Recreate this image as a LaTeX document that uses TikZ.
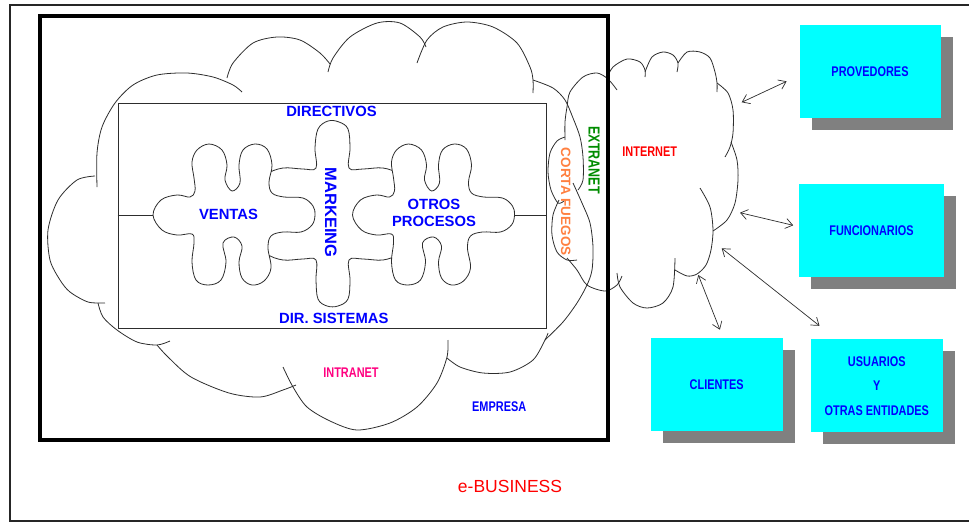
\documentclass[tikz,border=0pt]{standalone}
\usepackage{fontspec}
\setmainfont{Liberation Sans}
\newfontfamily\narrowsf{Liberation Sans}[FakeStretch=0.78]
\usetikzlibrary{arrows.meta,shadows}

\definecolor{boxcyan}{RGB}{0,255,255}
\definecolor{shadowgray}{RGB}{128,128,128}
\definecolor{linegray}{RGB}{45,45,45}
\definecolor{extragreen}{RGB}{0,140,0}
\definecolor{fireorange}{RGB}{255,128,64}
\definecolor{intrapink}{RGB}{255,0,128}

\tikzset{
    cloudline/.style={draw=linegray, line width=0.8pt},
    piece/.style={draw=linegray, line width=0.8pt, fill=white},
    dept/.style={font=\fontsize{14.8}{17.3}\selectfont\bfseries, text=blue, inner sep=0pt},
    tag/.style={font=\narrowsf\fontsize{14}{16}\selectfont\bfseries, inner sep=0pt},
    entity/.style={fill=boxcyan, minimum width=141pt, minimum height=93pt, inner sep=0pt,
        text=blue, align=center, font=\narrowsf\fontsize{14}{24.5}\selectfont\bfseries,
        drop shadow={shadow xshift=12pt, shadow yshift=-12pt, fill=shadowgray, opacity=1}},
    link/.style={draw=linegray, line width=0.7pt,
        {Straight Barb[length=7pt,width=10pt]}-{Straight Barb[length=7pt,width=10pt]}}
}

\begin{document}
\begin{tikzpicture}[x=1pt, y=-1pt]
    \useasboundingbox (0,0) rectangle (969,523);

    % empresa / intranet cloud
    \draw[cloudline] plot[smooth] coordinates {(97,187) (97,153) (102,127) (115,103) (133,85) (157,75) (187,73) (213,77) (233,85) (242,92)};
    \draw[cloudline] plot[smooth] coordinates {(227,78) (233,63) (253,43) (277,37) (300,40) (320,53) (330,64)};
    \draw[cloudline] plot[smooth] coordinates {(328,72) (333,58) (350,37) (377,23) (400,23) (420,37) (426,47)};
    \draw[cloudline] plot[smooth] coordinates {(417,63) (427,40) (443,27) (467,22) (493,27) (517,43) (530,67) (533,80) (533,93)};
    \draw[cloudline] plot[smooth] coordinates {(533,80) (553,88) (565,100) (573,118) (580,137) (583,157) (583,180) (578,190)};
    \draw[cloudline] plot[smooth] coordinates {(573,183) (582,203) (590,223) (593,247) (592,270) (587,285) (577,303) (563,322) (545,340)};
    \draw[cloudline] plot[smooth] coordinates {(548,333) (545,340) (533,360) (510,372) (483,373) (460,367) (447,358)};
    \draw[cloudline] plot[smooth] coordinates {(448,340) (447,357) (437,383) (417,407) (390,423) (357,430) (330,421) (307,407) (293,387) (283,367)};
    \draw[cloudline] plot[smooth] coordinates {(296,385) (283,390) (260,397) (229,393) (191,377) (168,357) (157,345)};
    \draw[cloudline] plot[smooth] coordinates {(170,341) (157,345) (137,342) (117,330) (103,317) (98,303)};
    \draw[cloudline] plot[smooth] coordinates {(105,303) (88,302) (70,292) (60,280) (50,260) (48,230) (58,200) (77,180) (95,176)};

    % extranet and corta fuegos
    \draw[cloudline] plot[smooth] coordinates {(565,140) (565,122) (567,107) (570,92) (583,77) (597,73) (608,79) (617,90)};
    \draw[cloudline] plot[smooth] coordinates {(567,258) (577,270) (587,285) (605,291) (617,285) (622,276)};
    \draw[cloudline] plot[smooth] coordinates {(565,137) (557,141) (550,153) (548,172) (551,190) (558,203) (564,201)};
    \draw[cloudline] plot[smooth] coordinates {(559,200) (553,215) (552,235) (557,252) (567,260) (577,260)};

    % internet
    \draw[cloudline] plot[smooth] coordinates {(607,78) (613,67) (627,59) (640,62) (645,70) (645,77)};
    \draw[cloudline] plot[smooth] coordinates {(645,72) (652,57) (663,52) (673,55) (678,63) (677,72)};
    \draw[cloudline] plot[smooth] coordinates {(678,63) (687,52) (700,52) (710,58) (715,72) (717,83) (717,92)};
    \draw[cloudline] plot[smooth] coordinates {(717,83) (728,93) (733,110) (733,133) (730,147) (725,157)};
    \draw[cloudline] plot[smooth] coordinates {(731,142) (737,160) (738,180) (735,203) (727,220) (713,231)};
    \draw[cloudline] plot[smooth] coordinates {(700,188) (710,207) (713,230) (711,250) (706,265) (697,274) (687,276) (675,270)};
    \draw[cloudline] plot[smooth] coordinates {(675,258) (673,287) (663,303) (647,308) (633,303) (620,287) (617,273)};

    % frames
    \draw[line width=2pt, color=black!85] (972,5) -- (10,5) -- (10,521) -- (972,521);
    \draw[line width=3.5pt] (40,16) rectangle (608,440);
    \node[draw=linegray, line width=0.9pt, minimum width=428pt, minimum height=225pt, inner sep=0pt] (depts) at (332,215.5) {};

    % marketing piece first, the other two sit over its side lobes
    \draw[piece, shift={(333,214)}] plot[smooth cycle, tension=0.6] coordinates {
        (-17,-46) (-18,-66) (-15,-85) (-5,-93) (6,-92) (15,-85) (17,-66) (16,-46)
        (30,-45) (50,-46) (66,-40) (70,-30) (70,-18) (64,-12) (36,-11) (33,0) (36,11)
        (64,12) (70,18) (70,30) (66,40) (50,46) (30,45)
        (16,46) (17,66) (15,85) (5,92) (-6,92) (-15,85) (-17,66) (-17,46)
        (-30,45) (-50,46) (-66,40) (-70,30) (-70,18) (-64,12) (-36,11) (-33,0) (-36,-11)
        (-64,-12) (-70,-18) (-70,-30) (-66,-40) (-50,-46) (-30,-45)};
    \foreach \cx in {234,433.5} {
        \draw[piece, shift={(\cx,215)}] plot[smooth cycle, tension=0.6] coordinates {
            (-81,0) (-73,-15) (-57,-20) (-44,-18) (-39,-24)
            (-40,-37) (-42,-53) (-37,-65) (-25,-71) (-12,-65) (-7,-50) (-9,-35) (-2,-24)
            (6,-32) (5,-50) (9,-65) (21,-71) (33,-66) (38,-50) (35,-33) (38,-22)
            (50,-18) (69,-17) (79,-9) (81,0) (78,10) (67,17) (49,17) (37,21)
            (34,33) (37,53) (30,66) (18,70) (8,63) (5,47) (8,31) (0,22)
            (-11,28) (-8,47) (-13,65) (-26,70) (-38,65) (-42,47) (-40,28) (-42,19)
            (-57,20) (-72,15)};
    }
    \coordinate (ventas-tip) at (153,215.5);
    \coordinate (otros-tip) at (514.5,215.5);
    \draw[linegray, line width=0.9pt] (depts.west) -- (ventas-tip);
    \draw[linegray, line width=0.9pt] (otros-tip) -- (depts.east);

    % labels
    \node[dept] (directivos) at (331.5,111.7) {DIRECTIVOS};
    \node[dept] (sistemas) at (333.8,318.3) {DIR. SISTEMAS};
    \node[dept] (ventas) at (228.5,214.5) {VENTAS};
    \node[dept, align=center] (otros) at (434,213) {OTROS\\PROCESOS};
    \node[dept, rotate=-90, font=\fontsize{16.5}{18}\selectfont\bfseries] (markeing) at (330.7,212.7) {MARKEING};
    \node[dept, rotate=-90, text=fireorange, font=\fontsize{13.5}{16}\selectfont\bfseries] (corta) at (565.7,201.7) {CORTA FUEGOS};
    \node[tag, rotate=-90, text=extragreen, font=\narrowsf\fontsize{16}{18}\selectfont\bfseries] (extranet) at (594,160) {EXTRANET};
    \node[tag, text=red] (internet) at (649.7,151.7) {INTERNET};
    \node[tag, text=intrapink] (intranet) at (351,372.3) {INTRANET};
    \node[tag, text=blue] (empresa) at (499.2,406.7) {EMPRESA};
    \node[text=red, inner sep=0pt, font=\fontsize{17.5}{20}\selectfont] (ebusiness) at (510,486.8) {e-BUSINESS};

    % external parties
    \node[entity] (prov) at (870,71.7) {PROVEDORES};
    \node[entity, minimum width=144.5pt, minimum height=92.4pt] (func) at (871.5,230.5) {FUNCIONARIOS};
    \node[entity, minimum width=132pt, minimum height=92.4pt] (cli) at (716.7,384.5) {CLIENTES};
    \node[entity, minimum width=131.7pt, minimum height=92.7pt] (usr) at (876.8,385.7) {USUARIOS\\Y\\OTRAS ENTIDADES};

    \coordinate (net-prov) at (741.7,102.3);
    \coordinate (net-func) at (740,212.7);
    \coordinate (net-usr) at (721.7,248.3);
    \coordinate (net-cli) at (698.3,275);
    \draw[link, shorten >=14pt] (net-prov) -- (prov.183);
    \draw[link, shorten >=6pt] (net-func) -- (func.177);
    \draw[link, shorten >=21.5pt] (net-usr) -- (usr.131);
    \draw[link, shorten >=9pt] (net-cli) -- (cli.82);
\end{tikzpicture}
\end{document}
